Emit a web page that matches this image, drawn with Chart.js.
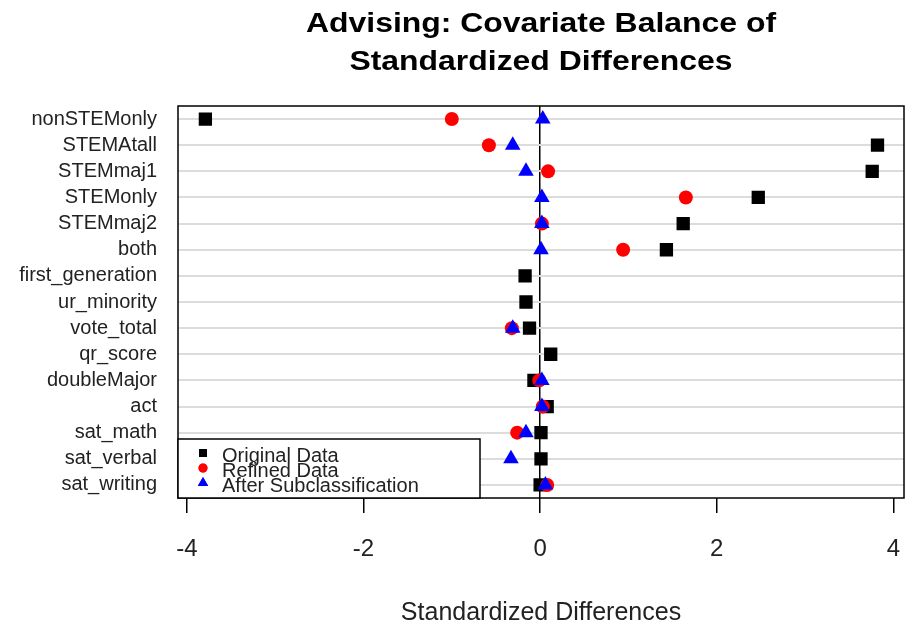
<!DOCTYPE html>
<html><head><meta charset="utf-8">
<script src="https://cdn.jsdelivr.net/npm/chart.js@4.4.0/dist/chart.umd.min.js"></script>
<style>html,body{margin:0;padding:0;background:#fff;overflow:hidden}canvas{display:block}</style>
</head><body><canvas id="c" width="906" height="628"></canvas>
<script>
const categories = ['nonSTEMonly','STEMAtall','STEMmaj1','STEMonly','STEMmaj2','both','first_generation','ur_minority','vote_total','qr_score','doubleMajor','act','sat_math','sat_verbal','sat_writing'];
const originalData = [-3.79, 3.82, 3.76, 2.47, 1.62, 1.43, -0.17, -0.16, -0.12, 0.12, -0.07, 0.08, 0.01, 0.01, 0.00];
const refinedData  = [-1.00, -0.58, 0.09, 1.65, 0.02, 0.94, null, null, -0.32, null, -0.01, 0.03, -0.26, null, 0.08];
const subclassData = [0.03, -0.31, -0.16, 0.02, 0.02, 0.01, null, null, -0.31, null, 0.02, 0.02, -0.16, -0.33, 0.06];
const xTicks = [-4, -2, 0, 2, 4];
const seriesNames = ['Original Data', 'Refined Data', 'After Subclassification'];
const titleLines = ['Advising: Covariate Balance of', 'Standardized Differences'];
const xTitle = 'Standardized Differences';

const colors = ['#000000', '#ff0000', '#0000ff'];
const shapes = ['rect', 'circle', 'triangle'];
const radii = [9.4, 7, 9];

function toPoints(arr) {
  return categories.map((c, i) => ({ x: arr[i], y: c })).filter(p => p.x !== null);
}
const seriesValues = [originalData, refinedData, subclassData];

const datasets = seriesValues.map((arr, k) => ({
  label: seriesNames[k],
  data: toPoints(arr),
  pointStyle: shapes[k],
  pointRadius: radii[k],
  pointHoverRadius: radii[k],
  backgroundColor: colors[k],
  borderColor: colors[k],
  borderWidth: 0,
  order: 3 - k
}));

const FONT = "'Liberation Sans', Arial, sans-serif";

const titlePlugin = {
  id: 'rtitle',
  afterDraw(chart) {
    const ctx = chart.ctx, a = chart.chartArea;
    const cx = (a.left + a.right) / 2;
    ctx.save();
    ctx.fillStyle = '#000';
    ctx.font = 'bold 28px ' + FONT;
    ctx.textAlign = 'center';
    ctx.textBaseline = 'middle';
    const ys = [24, 62];
    titleLines.forEach((t, i) => {
      ctx.save();
      ctx.translate(cx, ys[i]);
      ctx.scale(1.14, 1);
      ctx.fillText(t, 0, 0);
      ctx.restore();
    });
    ctx.restore();
  }
};

const boxLegendPlugin = {
  id: 'boxlegend',
  afterDraw(chart) {
    const ctx = chart.ctx, a = chart.chartArea;
    ctx.save();
    ctx.strokeStyle = '#000';
    ctx.lineWidth = 1.5;
    ctx.strokeRect(a.left, a.top, a.right - a.left, a.bottom - a.top);
    const lx = a.left, ly = a.bottom - 59, lw = 302, lh = 59;
    ctx.fillStyle = '#fff';
    ctx.fillRect(lx, ly, lw, lh);
    ctx.strokeRect(lx, ly, lw, lh);
    ctx.font = '20px ' + FONT;
    ctx.textAlign = 'left';
    ctx.textBaseline = 'middle';
    const lrad = [5.6, 4.5, 6];
    seriesNames.forEach((name, i) => {
      const y = ly + 17 + i * 15;
      ctx.fillStyle = colors[i];
      ctx.strokeStyle = colors[i];
      Chart.helpers.drawPoint(ctx, { pointStyle: shapes[i], radius: lrad[i], borderWidth: 0 }, lx + 25, y - 3);
      ctx.fill();
      ctx.fillStyle = '#222';
      ctx.fillText(name, lx + 44, y);
    });
    ctx.restore();
  }
};

new Chart(document.getElementById('c'), {
  type: 'scatter',
  data: { datasets },
  options: {
    responsive: false,
    maintainAspectRatio: false,
    animation: false,
    layout: { autoPadding: false, padding: { top: 106, right: 2, left: 0, bottom: 0 } },
    plugins: { legend: { display: false }, title: { display: false }, tooltip: { enabled: false } },
    scales: {
      x: {
        type: 'linear',
        min: -4.1,
        max: 4.12,
        z: 1,
        afterBuildTicks(scale) { scale.ticks = xTicks.map(v => ({ value: v })); },
        afterFit(scale) { scale.height = 130; scale.paddingLeft = 0; scale.paddingRight = 0; },
        border: { display: false },
        grid: {
          color: ctx => (ctx.tick && ctx.tick.value === 0) ? '#000' : 'rgba(0,0,0,0)',
          lineWidth: 1.5,
          tickColor: '#000',
          tickLength: 15,
          tickWidth: 1.5,
          drawTicks: true
        },
        ticks: { color: '#222', font: { family: FONT, size: 24 }, padding: 22, maxRotation: 0 },
        title: { display: true, text: xTitle, color: '#222', font: { family: FONT, size: 25 }, padding: { top: 0, bottom: 0 } }
      },
      y: {
        type: 'category',
        labels: categories,
        offset: true,
        z: 1,
        afterFit(scale) { scale.width = 178; scale.paddingTop = 0; scale.paddingBottom = 0; },
        border: { display: false },
        grid: { color: '#dcdcdc', lineWidth: 2, drawTicks: false },
        ticks: { color: '#222', font: { family: FONT, size: 20 }, padding: 21, autoSkip: false }
      }
    }
  },
  plugins: [titlePlugin, boxLegendPlugin]
});
</script>
</body></html>
